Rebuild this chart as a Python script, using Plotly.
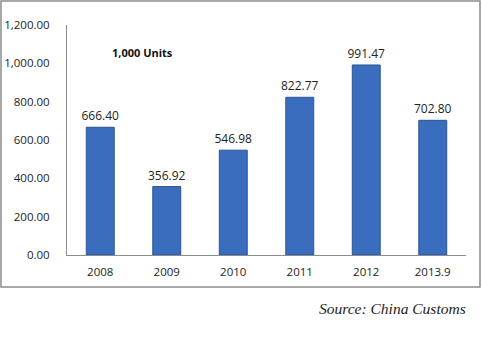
import plotly.graph_objects as go

categories = ["2008", "2009", "2010", "2011", "2012", "2013.9"]
values = [666.40, 356.92, 546.98, 822.77, 991.47, 702.80]
y_ticks = [0, 200, 400, 600, 800, 1000, 1200]
y_tick_labels = ["0.00", "200.00", "400.00", "600.00", "800.00", "1,000.00", "1,200.00"]

W, H = 481, 356
ml, mr, mt, mb = 67, 15, 25, 101
pw, ph = W - ml - mr, H - mt - mb

def px_x(px):
    return (px - ml) / pw

def px_y(py):
    return (H - mb - py) / ph

fig = go.Figure()
fig.add_trace(go.Bar(
    x=categories, y=values,
    width=0.42,
    marker=dict(color="#3a6dbd", line=dict(color="#2a5593", width=1)),
    text=[f"{v:.2f}" for v in values],
    textposition="outside",
    constraintext="none",
    textfont=dict(family="Open Sans", size=12, color="#222222"),
    cliponaxis=False,
))

fig.update_layout(
    width=W, height=H,
    margin=dict(l=ml, r=mr, t=mt, b=mb, autoexpand=False),
    paper_bgcolor="white", plot_bgcolor="white",
    showlegend=False,
    font=dict(family="Open Sans", size=11.5, color="#222222"),
    bargap=0.58,
    xaxis=dict(
        showline=True, linecolor="#8c8c8c", linewidth=1,
        showgrid=False, ticks="", tickfont=dict(size=11.5),
        ticklabelstandoff=6, automargin=False,
    ),
    yaxis=dict(
        range=[0, 1200], tickvals=y_ticks, ticktext=y_tick_labels,
        showline=True, linecolor="#8c8c8c", linewidth=1,
        showgrid=False, ticks="", zeroline=False, tickfont=dict(size=11.5),
        ticklabelstandoff=14, automargin=False,
    ),
    shapes=[dict(
        type="rect", xref="paper", yref="paper",
        x0=px_x(1), x1=px_x(480), y0=px_y(287), y1=px_y(1),
        line=dict(color="#8c8c8c", width=1.5), fillcolor="rgba(0,0,0,0)",
    )],
    annotations=[
        dict(text="<b>1,000 Units</b>", xref="paper", yref="paper",
             x=px_x(110), y=px_y(52), xanchor="left", yanchor="middle",
             showarrow=False, font=dict(family="Open Sans", size=11, color="#111111")),
        dict(text="<i>Source: China Customs</i>", xref="paper", yref="paper",
             x=px_x(468), y=px_y(308), xanchor="right", yanchor="middle",
             showarrow=False, font=dict(family="Liberation Serif", size=15.5, color="#222222")),
    ],
)

fig.write_html("out.html", config={"displayModeBar": False},
               post_script="document.body.style.margin='0';")
